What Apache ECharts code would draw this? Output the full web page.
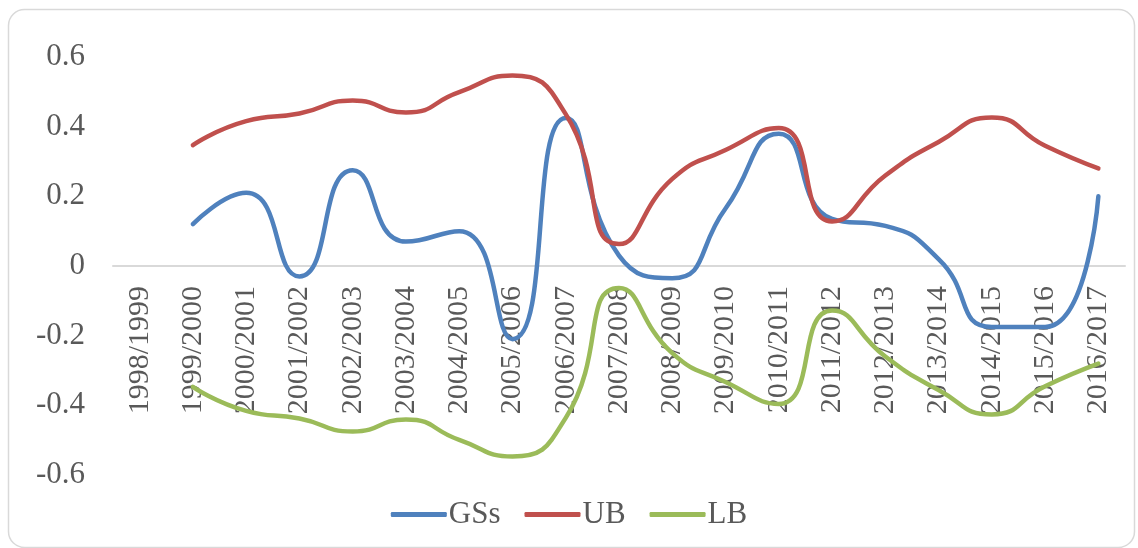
<!DOCTYPE html>
<html>
<head>
<meta charset="utf-8">
<script src="https://cdn.jsdelivr.net/npm/echarts@6/dist/echarts.min.js"></script>
<style>
  html, body { margin: 0; padding: 0; background: #ffffff; }
  #chart { width: 1138px; height: 548px; }
</style>
</head>
<body>
<div id="chart"></div>
<script>
// Season categories along the x axis
const seasons = [
  '1998/1999', '1999/2000', '2000/2001', '2001/2002', '2002/2003',
  '2003/2004', '2004/2005', '2005/2006', '2006/2007', '2007/2008',
  '2008/2009', '2009/2010', '2010/2011', '2011/2012', '2012/2013',
  '2013/2014', '2014/2015', '2015/2016', '2016/2017'
];

// GSs with its upper and lower bounds (no value for the first season)
const gss = [null, 0.12, 0.21, -0.03, 0.275, 0.07, 0.10, -0.21, 0.425, 0.03,
  -0.035, 0.165, 0.38, 0.135, 0.115, 0.02, -0.175, -0.175, 0.20];
const ub = [null, 0.347, 0.416, 0.438, 0.475, 0.441, 0.499, 0.547, 0.436, 0.063,
  0.25, 0.333, 0.396, 0.128, 0.26, 0.356, 0.426, 0.345, 0.28];
const lb = [null, -0.347, -0.416, -0.438, -0.475, -0.441, -0.499, -0.547, -0.436, -0.063,
  -0.25, -0.333, -0.396, -0.128, -0.26, -0.356, -0.426, -0.345, -0.28];

// Y axis tick range
const yMin = -0.6, yMax = 0.6, yStep = 0.2;

const font = '"Liberation Serif", "Times New Roman", serif';
const textColor = '#595959';

const gridTop = 57, gridBottom = 73, chartH = 548;
// distance from the bottom of the plot area up to the zero line
const zeroLift = (chartH - gridTop - gridBottom) * (0 - yMin) / (yMax - yMin);

const chart = echarts.init(document.getElementById('chart'), null, { renderer: 'canvas' });

function line(name, data, color) {
  return {
    name: name,
    type: 'line',
    data: data,
    smooth: 0.55,
    showSymbol: false,
    symbol: 'none',
    connectNulls: false,
    lineStyle: { color: color, width: 4.5, cap: 'round', join: 'round' },
    itemStyle: { color: color }
  };
}

chart.setOption({
  animation: false,
  backgroundColor: '#ffffff',
  graphic: [{
    type: 'rect',
    left: 6, top: 7,
    shape: { width: 1126, height: 538, r: 16 },
    style: { fill: 'none', stroke: '#d9d9d9', lineWidth: 1.5 },
    z: -1
  }],
  grid: {
    left: 113, right: 13, top: gridTop, bottom: gridBottom,
    containLabel: false,
    outerBoundsMode: 'none'
  },
  legend: {
    bottom: 13,
    left: 'center',
    itemWidth: 56,
    itemHeight: 5,
    itemGap: 24,
    icon: 'roundRect',
    textStyle: { fontFamily: font, fontSize: 31, color: textColor, padding: [0, 0, 0, -3] },
    data: ['GSs', 'UB', 'LB']
  },
  xAxis: {
    type: 'category',
    data: seasons,
    boundaryGap: true,
    offset: -zeroLift,
    axisLine: { onZero: false, lineStyle: { color: '#d9d9d9', width: 2 } },
    axisTick: { show: false },
    axisLabel: {
      rotate: 90,
      margin: 20,
      interval: 0,
      fontFamily: font,
      fontSize: 30,
      color: textColor
    }
  },
  yAxis: {
    type: 'value',
    min: yMin,
    max: yMax,
    interval: yStep,
    splitLine: { show: false },
    axisLine: { show: false },
    axisTick: { show: false },
    axisLabel: {
      margin: 28,
      fontFamily: font,
      fontSize: 31,
      color: textColor,
      formatter: function (v) {
        const r = Math.round(v * 10) / 10;
        return r === 0 ? '0' : String(r);
      }
    }
  },
  series: [
    line('GSs', gss, '#4f81bd'),
    line('UB', ub, '#c0504d'),
    line('LB', lb, '#9bbb59')
  ]
});
</script>
</body>
</html>
